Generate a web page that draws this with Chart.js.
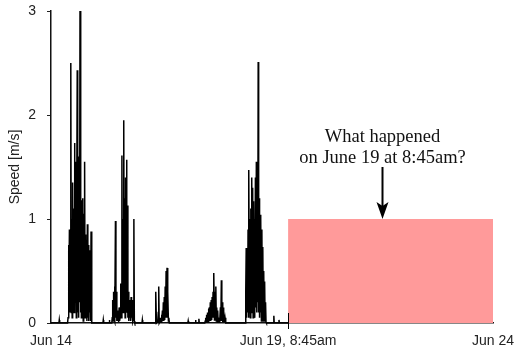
<!DOCTYPE html>
<html>
<head>
<meta charset="utf-8">
<script src="https://cdn.jsdelivr.net/npm/chart.js@4/dist/chart.umd.min.js"></script>
<style>
  html, body { margin: 0; padding: 0; background: #ffffff; }
  #wrap { width: 517px; height: 349px; }
</style>
</head>
<body>
<div id="wrap"><canvas id="c" width="517" height="349"></canvas></div>
<script>
// ---- Data (hours since Jun 14 00:00, speed in m/s) ----
const sampleStepHours = 0.25;

const burst1Start = 9.0;
const burst1 = [0, 0.05, 0.75, 0.05, 0.9, 0.1, 0.85, 2.5, 0.1, 1.0, 0.05, 1.35, 0.2, 1.1, 0.1, 1.73, 0.15, 1.2, 1.55, 0.05, 1.3, 2.43, 0.1, 1.25, 0.05, 1.6, 0.2, 3.0, 0.1, 1.15, 0.05, 1.18, 0.15, 1.2, 0.02, 1.05, 0.1, 1.55, 0.05, 0.85, 0.1, 0.8, 0.02, 0.95, 0.05, 0.75, 0.02, 0.7, 0.1, 0.35, 0.02, 0.88, 0.02, 0];

const burst2Start = 33.0;
const burst2 = [0, 0.05, 0.22, 0.02, 0.3, 0.05, 0.35, 0.02, 0.98, 0.05, 0.3, 0.02, 0.12, 0.02, 0.1, 0.01, 0.15, 0.02, 0.05, 0.2, 0.38, 0.05, 1.61, 0.1, 1.0, 0.2, 1.95, 0.1, 1.2, 0.05, 1.4, 0.15, 1.57, 0.1, 1.13, 0.05, 0.3, 0.02, 0.2, 0.05, 0.22, 0.02, 0.25, 0.05, 0.1, 0.22, 0.02, 0.05, 1.0, 0.02, 0];

const burst3Start = 56.5;
const burst3 = [0, 0.02, 0.3, 0, 0, 0.01, 0.02, 0.1, 0.35, 0, 0, 0.02, 0.05, 0.01, 0.08, 0.01, 0.12, 0.02, 0.2, 0.02, 0.25, 0.03, 0.35, 0.05, 0.5, 0.05, 0.53, 0.05, 0.3, 0.02, 0.05, 0];

const burst4Start = 83.5;
const burst4 = [0, 0.02, 0.05, 0.01, 0.08, 0.01, 0.1, 0.01, 0.14, 0.02, 0.15, 0.02, 0.2, 0.02, 0.22, 0.03, 0.25, 0.05, 0.3, 0.05, 0.48, 0.03, 0.3, 0.05, 0.35, 0.02, 0.15, 0.01, 0.12, 0.01, 0.03, 0.01, 0.05, 0.02, 0.15, 0.02, 0.41, 0.02, 0.2, 0.01, 0.15, 0.01, 0.05, 0.01, 0.05, 0.01, 0];

const burst5Start = 105.5;
const burst5 = [0, 0.3, 0.72, 0.05, 0.6, 0.1, 0.9, 0.05, 1.47, 0.1, 1.0, 0.05, 1.1, 0.2, 1.4, 0.1, 1.3, 0.05, 1.17, 0.1, 1.0, 0.05, 1.4, 0.15, 1.55, 0.1, 1.3, 0.2, 2.51, 0.1, 1.2, 0.05, 1.04, 0.1, 1.0, 0.02, 0.9, 0.05, 0.73, 0.02, 0.5, 0.05, 0.4, 0.02, 0.2, 0.01, 0];

// isolated small readings between bursts
const blipHours  = [0, 4.3, 4.5, 4.7, 28.2, 28.4, 28.6, 31.5, 31.7, 31.9, 49.4, 49.6, 49.8, 74.3, 74.5, 74.7, 78.3, 78.5, 78.7, 80.1, 80.3, 80.5, 120.8, 121.0, 121.2, 123.6, 123.8, 124.0, 128.75];
const blipSpeeds = [0, 0,   0.03, 0,  0,    0.03, 0,    0,    0.03, 0,    0,    0.03, 0,    0,    0.02, 0,    0,    0.03, 0,    0,    0.04, 0,    0,     0.07,  0,     0,     0.03,  0,     0];

// event / tick labels
const eventHour = 128.75;          // Jun 19, 8:45am
const endHour = 240;               // Jun 24
const tickHours = [0, 128.75, 240];
const tickLabels = ["Jun 14", "Jun 19, 8:45am", "Jun 24"];
const yTicks = [0, 1, 2, 3];
const unknownLevel = 1;            // height of the pink block
const noteHour = 180;
const noteTopLevel = 1.5;
const noteLines = ["What happened", "on June 19 at 8:45am?"];

// ---- build the series ----
const bursts = [[burst1Start, burst1], [burst2Start, burst2], [burst3Start, burst3], [burst4Start, burst4], [burst5Start, burst5]];
let points = [];
bursts.forEach(([s, vals]) => vals.forEach((v, i) => points.push({x: s + i * sampleStepHours, y: v})));
blipHours.forEach((h, i) => points.push({x: h, y: blipSpeeds[i]}));
points.sort((a, b) => a.x - b.x);

const SERIF = '"Liberation Serif", "Times New Roman", Times, serif';
const SANS = '"Liberation Sans", Arial, Helvetica, sans-serif';

const annotate = {
  id: 'annotate',
  afterDatasetsDraw(chart) {
    const {ctx, scales: {x, y}} = chart;
    ctx.save();
    // event marker on the x axis
    const ex = Math.round(x.getPixelForValue(eventHour)) + 0.5;
    const by = y.getPixelForValue(0);
    ctx.strokeStyle = '#000';
    ctx.lineWidth = 1;
    ctx.beginPath();
    ctx.moveTo(ex, by - 10);
    ctx.lineTo(ex, by + 6);
    ctx.stroke();

    // arrow
    const ax = x.getPixelForValue(noteHour);
    const yTip = y.getPixelForValue(unknownLevel);
    const yTop = y.getPixelForValue(noteTopLevel);
    ctx.lineWidth = 2;
    ctx.beginPath();
    ctx.moveTo(ax, yTop);
    ctx.lineTo(ax, yTip - 10);
    ctx.stroke();
    ctx.fillStyle = '#000';
    ctx.beginPath();
    ctx.moveTo(ax, yTip);
    ctx.lineTo(ax - 6, yTip - 17);
    ctx.lineTo(ax, yTip - 13);
    ctx.lineTo(ax + 6, yTip - 17);
    ctx.closePath();
    ctx.fill();

    // text
    ctx.font = '18.5px ' + SERIF;
    ctx.textAlign = 'center';
    ctx.textBaseline = 'alphabetic';
    ctx.fillStyle = '#111';
    ctx.fillText(noteLines[0], ax, yTop - 25);
    ctx.fillText(noteLines[1], ax, yTop - 4);
    ctx.restore();
  }
};

function draw() {
  new Chart(document.getElementById('c'), {
    type: 'line',
    data: {
      datasets: [
        {
          data: points,
          borderColor: '#000',
          borderWidth: 1.5,
          pointRadius: 0,
          tension: 0,
          fill: false,
          clip: 3
        },
        {
          data: [{x: eventHour, y: unknownLevel}, {x: endHour, y: unknownLevel}],
          borderWidth: 0,
          borderColor: 'rgba(0,0,0,0)',
          backgroundColor: '#ff9a9a',
          pointRadius: 0,
          fill: 'origin'
        }
      ]
    },
    plugins: [annotate],
    options: {
      responsive: false,
      animation: false,
      layout: { padding: { top: 11, right: 24, left: 0, bottom: 0 } },
      plugins: { legend: { display: false }, tooltip: { enabled: false } },
      scales: {
        x: {
          type: 'linear',
          min: 0,
          max: endHour,
          afterBuildTicks: (s) => { s.ticks = tickHours.map(v => ({value: v})); },
          afterFit: (s) => { s.height = 26; s.paddingLeft = 0; s.paddingRight = 0; },
          grid: { display: true, drawOnChartArea: false, drawTicks: false },
          border: { display: true, color: '#111', width: 1.5 },
          ticks: {
            autoSkip: false,
            maxRotation: 0,
            padding: 10,
            color: '#222',
            font: { family: SANS, size: 14 },
            callback: (v) => { const i = tickHours.indexOf(v); return i >= 0 ? tickLabels[i] : ''; }
          }
        },
        y: {
          type: 'linear',
          min: 0,
          max: 3,
          afterBuildTicks: (s) => { s.ticks = yTicks.map(v => ({value: v})); },
          afterFit: (s) => { s.width = 51; s.paddingTop = 0; s.paddingBottom = 0; },
          grid: { display: true, drawOnChartArea: false, drawTicks: true, tickLength: 4, color: '#222' },
          border: { display: true, color: '#111', width: 1.5 },
          title: {
            display: true,
            text: 'Speed [m/s]',
            color: '#222',
            padding: { top: 7, bottom: 0 },
            font: { family: SANS, size: 14 }
          },
          ticks: {
            padding: 11,
            color: '#222',
            font: { family: SANS, size: 14 }
          }
        }
      }
    }
  });
}

const fontLoads = [
  document.fonts.load('18px "Liberation Serif"', 'What'),
  document.fonts.load('14px "Liberation Sans"', 'Jun')
];
let drawn = false;
function go() { if (!drawn) { drawn = true; draw(); } }
Promise.all(fontLoads).then(go, go);
setTimeout(go, 1500);
</script>
</body>
</html>
